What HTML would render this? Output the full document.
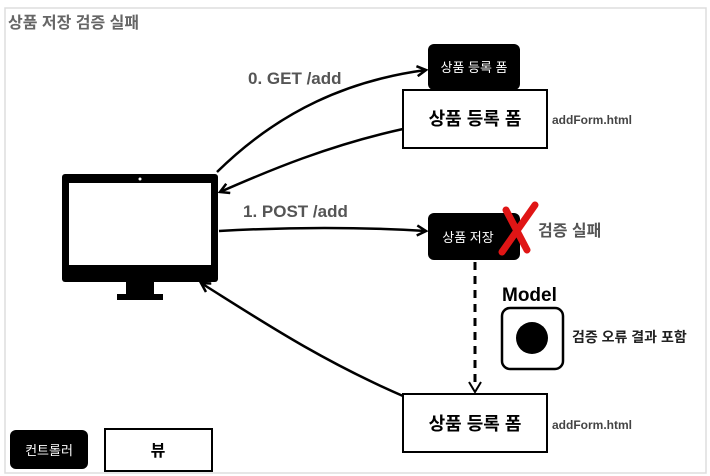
<!DOCTYPE html>
<html><head><meta charset="utf-8"><style>
body{margin:0;width:710px;height:476px;background:#fff;overflow:hidden;font-family:"Liberation Sans","Noto Sans CJK KR",sans-serif}
.a{position:absolute}
</style></head><body>
<svg class="a" style="left:0;top:0" width="710" height="476">
<defs><marker id="ar" markerWidth="12" markerHeight="12" refX="10" refY="6" orient="auto" markerUnits="userSpaceOnUse"><path d="M1,1 L10,6 L1,11" fill="none" stroke="#000" stroke-width="2.5"/></marker></defs>
<rect x="5" y="8" width="701" height="465" fill="none" stroke="#ddd" stroke-width="1.5"/>
<rect x="428" y="44" width="92" height="46" rx="6" fill="#000"/>
<text x="474" y="72" fill="#fff" font-size="13" text-anchor="middle">상품 등록 폼</text>
<rect x="403" y="90" width="144" height="58" fill="#fff" stroke="#000" stroke-width="2"/>
<text x="475" y="125" font-size="18" font-weight="bold" text-anchor="middle">상품 등록 폼</text>
<text x="552" y="124" font-size="12" font-weight="bold" fill="#444">addForm.html</text>
<rect x="62" y="174" width="156" height="108" rx="3" fill="#000"/>
<rect x="69" y="183" width="142" height="82" fill="#fff"/>
<circle cx="140" cy="179" r="1.5" fill="#fff"/>
<rect x="126" y="282" width="28" height="14" fill="#000"/>
<rect x="117" y="294" width="46" height="6" fill="#000"/>
<text x="248" y="84" font-size="17" font-weight="bold" fill="#555">0. GET /add</text>
<text x="243" y="217" font-size="17" font-weight="bold" fill="#555">1. POST /add</text>
<path d="M217,172 C280,110 350,80 426,70" fill="none" stroke="#000" stroke-width="2.5" marker-end="url(#ar)"/>
<path d="M403,129 C330,145 270,170 220,192" fill="none" stroke="#000" stroke-width="2.5" marker-end="url(#ar)"/>
<path d="M219,231 C290,227 360,227 426,231" fill="none" stroke="#000" stroke-width="2.5" marker-end="url(#ar)"/>
<path d="M403,396 C320,360 260,320 201,283" fill="none" stroke="#000" stroke-width="2.5" marker-end="url(#ar)"/>
<rect x="428" y="213" width="92" height="47" rx="6" fill="#000"/>
<text x="468" y="242" fill="#fff" font-size="13" text-anchor="middle">상품 저장</text>
<path d="M506,210 L527,250 M535,205 L502,252" stroke="#e01515" stroke-width="7" stroke-linecap="round"/>
<text x="538" y="236" font-size="16" font-weight="bold" fill="#555">검증 실패</text>
<line x1="475" y1="262" x2="475" y2="388" stroke="#000" stroke-width="3" stroke-dasharray="8,6"/>
<path d="M469,382 L475,392 L481,382" fill="none" stroke="#000" stroke-width="2"/>
<text x="502" y="301" font-size="19" font-weight="bold">Model</text>
<rect x="502" y="308" width="61" height="61" rx="8" fill="#fff" stroke="#000" stroke-width="2.5"/>
<circle cx="532" cy="338" r="16" fill="#000"/>
<text x="572" y="342" font-size="14" font-weight="bold" fill="#222">검증 오류 결과 포함</text>
<rect x="403" y="394" width="144" height="58" fill="#fff" stroke="#000" stroke-width="2"/>
<text x="475" y="430" font-size="18" font-weight="bold" text-anchor="middle">상품 등록 폼</text>
<text x="552" y="429" font-size="12" font-weight="bold" fill="#444">addForm.html</text>
<rect x="10" y="430" width="78" height="39" rx="6" fill="#000"/>
<text x="49" y="455" fill="#fff" font-size="13" text-anchor="middle">컨트롤러</text>
<rect x="105" y="429" width="107" height="42" fill="#fff" stroke="#000" stroke-width="2"/>
<text x="158" y="456" font-size="16" font-weight="bold" text-anchor="middle">뷰</text>
<text x="8" y="28" font-size="16" font-weight="bold" fill="#666">상품 저장 검증 실패</text>
</svg>
</body></html>
